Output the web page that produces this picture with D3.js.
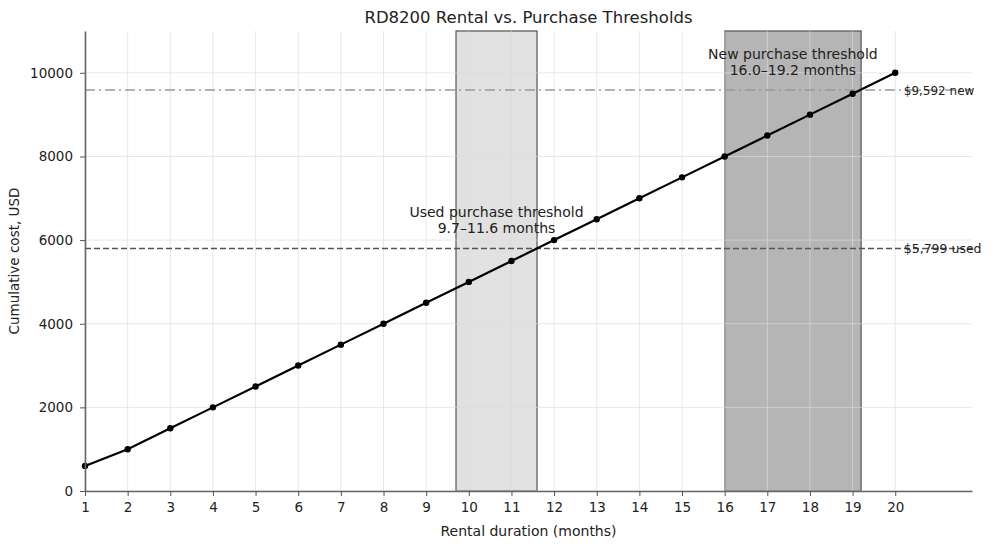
<!DOCTYPE html>
<html>
<head>
<meta charset="utf-8">
<script src="https://cdn.jsdelivr.net/npm/d3@7"></script>
<style>
  body { margin: 0; background: #fff; }
  svg { font-family: "DejaVu Sans", sans-serif; }
</style>
</head>
<body>
<div id="chart"></div>
<script>
// data
const months = [1, 2, 3, 4, 5, 6, 7, 8, 9, 10, 11, 12, 13, 14, 15, 16, 17, 18, 19, 20];
const cumulativeCost = [600, 1000, 1500, 2000, 2500, 3000, 3500, 4000, 4500, 5000,
                        5500, 6000, 6500, 7000, 7500, 8000, 8500, 9000, 9500, 10000];
const yTicks = [0, 2000, 4000, 6000, 8000, 10000];
const usedBand = [9.7, 11.6];
const newBand = [16.0, 19.2];
const usedPrice = 5799;
const newPrice = 9592;

const width = 1000, height = 546;
const margin = { top: 31, right: 28, bottom: 55, left: 85 };

const svg = d3.select('#chart').append('svg')
    .attr('width', width)
    .attr('height', height);

const x = d3.scaleLinear().domain([1, 21.8]).range([margin.left, width - margin.right]);
const y = d3.scaleLinear().domain([0, 11000]).range([height - margin.bottom, margin.top]);

const plotTop = margin.top, plotBottom = height - margin.bottom;
const plotMid = (margin.left + width - margin.right) / 2;

// threshold bands
function band(range, fill) {
    svg.append('rect')
        .attr('x', x(range[0]))
        .attr('y', plotTop)
        .attr('width', x(range[1]) - x(range[0]))
        .attr('height', plotBottom - plotTop)
        .attr('fill', fill)
        .attr('fill-opacity', 0.85)
        .attr('stroke', '#555')
        .attr('stroke-width', 1.2);
}
band(usedBand, '#dcdcdc');
band(newBand, '#a8a8a8');

// grid (on top of the bands, light)
svg.append('g')
    .selectAll('line')
    .data(months)
    .join('line')
    .attr('x1', d => x(d)).attr('x2', d => x(d))
    .attr('y1', plotTop).attr('y2', plotBottom)
    .attr('stroke', '#dcdcdc').attr('stroke-opacity', 0.65).attr('stroke-width', 1);

svg.append('g')
    .selectAll('line')
    .data(yTicks)
    .join('line')
    .attr('x1', x(1)).attr('x2', width - margin.right)
    .attr('y1', d => y(d)).attr('y2', d => y(d))
    .attr('stroke', '#dcdcdc').attr('stroke-opacity', 0.65).attr('stroke-width', 1);

// price lines
svg.append('line')
    .attr('x1', x(1)).attr('x2', width - margin.right)
    .attr('y1', y(newPrice)).attr('y2', y(newPrice))
    .attr('stroke', '#999').attr('stroke-width', 1.5)
    .attr('stroke-dasharray', '10,4,2,4');

svg.append('line')
    .attr('x1', x(1)).attr('x2', width - margin.right)
    .attr('y1', y(usedPrice)).attr('y2', y(usedPrice))
    .attr('stroke', '#555').attr('stroke-width', 1.5)
    .attr('stroke-dasharray', '6,3');

// cost line
const line = d3.line()
    .x((d, i) => x(months[i]))
    .y(d => y(d));

svg.append('path')
    .datum(cumulativeCost)
    .attr('fill', 'none')
    .attr('stroke', '#000')
    .attr('stroke-width', 2.2)
    .attr('d', line);

svg.append('g')
    .selectAll('circle')
    .data(cumulativeCost)
    .join('circle')
    .attr('cx', (d, i) => x(months[i]))
    .attr('cy', d => y(d))
    .attr('r', 3.2)
    .attr('fill', '#000');

// axes
const xAxis = svg.append('g')
    .attr('transform', `translate(0,${plotBottom})`)
    .call(d3.axisBottom(x).tickValues(months).tickFormat(d3.format('d'))
        .tickSize(5).tickPadding(6).tickSizeOuter(0));
const yAxis = svg.append('g')
    .attr('transform', `translate(${margin.left},0)`)
    .call(d3.axisLeft(y).tickValues(yTicks).tickFormat(d3.format('d'))
        .tickSize(5).tickPadding(7).tickSizeOuter(0));

[xAxis, yAxis].forEach(a => {
    a.select('.domain').attr('stroke', '#666').attr('stroke-width', 1.6);
    a.selectAll('.tick line').attr('stroke', '#555');
    a.selectAll('.tick text')
        .attr('fill', '#222')
        .attr('font-size', '13.5px')
        .attr('font-family', '"DejaVu Sans", sans-serif');
});

// labels
svg.append('text')
    .attr('x', plotMid).attr('y', 23)
    .attr('text-anchor', 'middle')
    .attr('font-size', '16.5px')
    .attr('fill', '#222')
    .text('RD8200 Rental vs. Purchase Thresholds');

svg.append('text')
    .attr('x', plotMid).attr('y', 536)
    .attr('text-anchor', 'middle')
    .attr('font-size', '14px')
    .attr('fill', '#222')
    .text('Rental duration (months)');

svg.append('text')
    .attr('transform', `translate(19,${(plotTop + plotBottom) / 2}) rotate(-90)`)
    .attr('text-anchor', 'middle')
    .attr('font-size', '13.5px')
    .attr('fill', '#222')
    .text('Cumulative cost, USD');

svg.append('text')
    .attr('x', x(20.2)).attr('y', y(newPrice) + 5)
    .attr('font-size', '12px').attr('fill', '#222')
    .text('$9,592 new');

svg.append('text')
    .attr('x', x(20.2)).attr('y', y(usedPrice) + 5)
    .attr('font-size', '12.5px').attr('fill', '#222')
    .text('$5,799 used');

function note(cx, cy, lines) {
    lines.forEach((t, i) => {
        svg.append('text')
            .attr('x', cx).attr('y', cy + i * 16)
            .attr('text-anchor', 'middle')
            .attr('font-size', '14px').attr('fill', '#222')
            .text(t);
    });
}
note(x((usedBand[0] + usedBand[1]) / 2), 217, ['Used purchase threshold', '9.7–11.6 months']);
note(x((newBand[0] + newBand[1]) / 2), 59, ['New purchase threshold', '16.0–19.2 months']);
</script>
</body>
</html>
